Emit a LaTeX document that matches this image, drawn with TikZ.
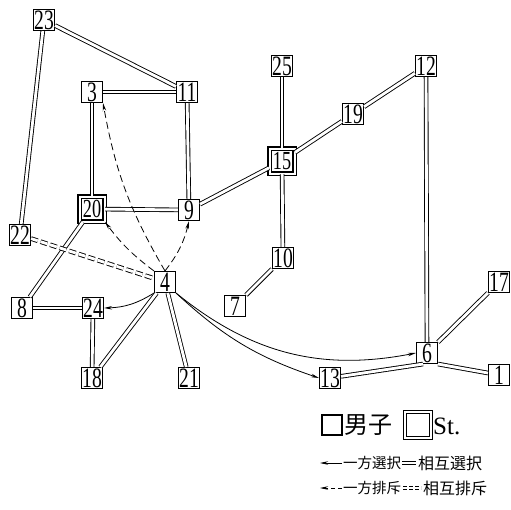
\documentclass[tikz,border=0pt]{standalone}
\usepackage{fontspec}
\setmainfont{Liberation Serif}
\newfontfamily\numfont[FakeStretch=0.7]{Liberation Serif}
\newfontfamily\cjk{Noto Sans CJK JP}
\usetikzlibrary{arrows.meta}
\begin{document}
\begin{tikzpicture}[x=1pt,y=-1pt,
  nbox/.style={draw, line width=1.1pt, fill=white, minimum width=21pt, minimum height=21pt, inner sep=0pt, font=\numfont\fontsize{28}{28}\selectfont},
  stbox/.style={draw, double, line width=1.1pt, double distance=2pt, fill=white, minimum width=25pt, minimum height=25pt, inner sep=0pt, font=\numfont\fontsize{26}{26}\selectfont},
  mutual/.style={draw, line width=0.9pt, double, double distance=2.8pt},
  mrej/.style={mutual, dash pattern=on 7pt off 3pt},
  sel/.style={draw, line width=0.8pt, -{Stealth[length=8pt,width=3.5pt]}},
  rej/.style={sel, dash pattern=on 7pt off 4pt},
  lbl/.style={anchor=west, inner sep=0pt},
]
\useasboundingbox (0,0) rectangle (511,509);
% nodes
\node[nbox] (n23) at (44,20) {23};
\node[nbox] (n3) at (92,92) {3};
\node[nbox] (n11) at (187,92) {11};
\node[stbox] (n20) at (92,209) {20};
\node[nbox] (n9) at (189,210) {9};
\node[nbox] (n22) at (20,235) {22};
\node[nbox] (n4) at (165,282) {4};
\node[nbox] (n8) at (22,308) {8};
\node[nbox] (n24) at (93,308) {24};
\node[nbox] (n18) at (92,378) {18};
\node[nbox] (n21) at (189,378) {21};
\node[nbox] (n25) at (282,66) {25};
\node[nbox] (n12) at (426,66) {12};
\node[nbox] (n19) at (353,114) {19};
\node[stbox] (n15) at (282,161) {15};
\node[nbox] (n10) at (283,258) {10};
\node[nbox] (n7) at (235,306) {7};
\node[nbox] (n17) at (499,282) {17};
\node[nbox] (n6) at (427,353) {6};
\node[nbox] (n1) at (499,375) {1};
\node[nbox] (n13) at (330,378) {13};
% mutual selection
\foreach \a/\b in {n23/n11, n23/n22, n3/n11, n3/n20, n11/n9, n20/n9, n20/n8, n8/n24, n24/n18, n4/n18, n4/n21, n9/n15, n15/n25, n15/n19, n19/n12, n15/n10, n10/n7, n12/n6, n6/n17}
  \draw[mutual] (\a) -- (\b);
\draw[mutual] (n6.south east) -- (n1);
\draw[mutual] (n13) -- ([xshift=-4pt]n6.south);
% mutual rejection
\draw[mrej] (n22) -- (n4);
% one-way rejection
\draw[rej] (n4.north) to[bend left=10] (n3.south east);
\draw[rej] (n4.north west) to[bend left=8] (n20.south east);
\draw[rej] (n4.north) to[bend right=12] (n9.south);
% one-way selection
\draw[sel] (n4.south west) to[bend left=15] (n24.east);
\draw[sel] (n4.south east) to[bend right=25] (n6.west);
\draw[sel] (n4.south east) to[bend right=12] (n13.west);
% legend
\node[nbox, minimum width=20pt, minimum height=20pt] (lb) at (332,425) {};
\node[lbl, font=\cjk\fontsize{24}{24}\selectfont] (lm) at (344,425) {男子};
\node[stbox, minimum width=26pt, minimum height=26pt] (ls) at (418,425) {};
\node[lbl, font=\fontsize{25}{25}\selectfont] (lst) at (433,426) {St.};
\coordinate (a1s) at (342,463); \coordinate (a1e) at (320,463);
\draw[sel] (a1s) -- (a1e);
\node[lbl, font=\cjk\fontsize{14.5}{14.5}\selectfont] (t1) at (343,463) {一方選択};
\coordinate (d1s) at (402,463); \coordinate (d1e) at (416,463);
\draw[mutual, line width=0.8pt, double distance=2.2pt] (d1s) -- (d1e);
\node[lbl, font=\cjk\fontsize{16}{16}\selectfont] (t2) at (418,463) {相互選択};
\coordinate (a2s) at (342,488); \coordinate (a2e) at (320,488);
\draw[rej, dash pattern=on 4pt off 3pt] (a2s) -- (a2e);
\node[lbl, font=\cjk\fontsize{14.5}{14.5}\selectfont] (t3) at (343,488) {一方排斥};
\coordinate (d2s) at (403,488); \coordinate (d2e) at (421,488);
\draw[mutual, line width=0.8pt, double distance=2.2pt, dash pattern=on 4pt off 2pt] (d2s) -- (d2e);
\node[lbl, font=\cjk\fontsize{16}{16}\selectfont] (t4) at (423,488) {相互排斥};
\end{tikzpicture}
\end{document}
